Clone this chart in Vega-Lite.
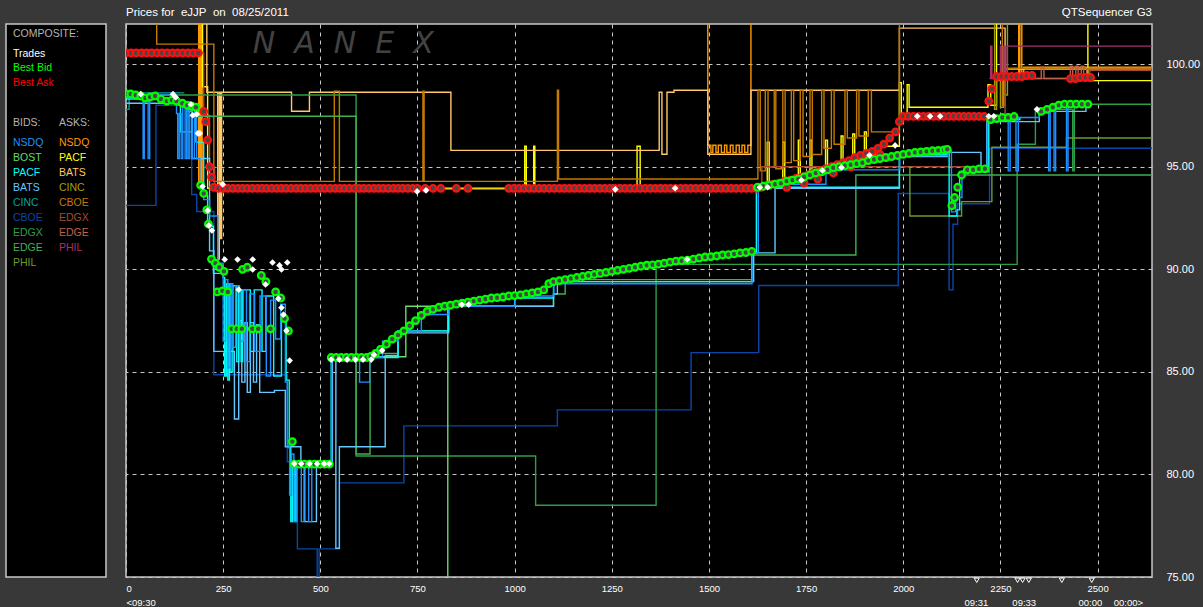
{
"$schema": "https://vega.github.io/schema/vega-lite/v6.json",
"background": "#383838",
"padding": {"left": 5, "top": 6, "right": 5, "bottom": 2},
"bounds": "flush",
"spacing": 20,
"config": {"view": {"fill": "#000000", "stroke": "#c8c8c8", "strokeWidth": 1.5}, "text": {"font": "Liberation Sans"}, "axis": {"labelFont": "Liberation Sans"}},
"datasets": {
"legend": [
{"label":"COMPOSITE:","key":"hdr","col":0,"ln":0},
{"label":"Trades","key":"Trades","col":0,"ln":1.31},
{"label":"Best Bid","key":"Best Bid","col":0,"ln":2.29},
{"label":"Best Ask","key":"Best Ask","col":0,"ln":3.29},
{"label":"BIDS:","key":"hdr","col":0,"ln":5.95},
{"label":"ASKS:","key":"hdr","col":1,"ln":5.95},
{"label":"NSDQ","key":"Bid NSDQ","col":0,"ln":7.29},
{"label":"BOST","key":"Bid BOST","col":0,"ln":8.29},
{"label":"PACF","key":"Bid PACF","col":0,"ln":9.29},
{"label":"BATS","key":"Bid BATS","col":0,"ln":10.29},
{"label":"CINC","key":"Bid CINC","col":0,"ln":11.29},
{"label":"CBOE","key":"Bid CBOE","col":0,"ln":12.29},
{"label":"EDGX","key":"Bid EDGX","col":0,"ln":13.29},
{"label":"EDGE","key":"Bid EDGE","col":0,"ln":14.29},
{"label":"PHIL","key":"Bid PHIL","col":0,"ln":15.29},
{"label":"NSDQ","key":"Ask NSDQ","col":1,"ln":7.29},
{"label":"PACF","key":"Ask PACF","col":1,"ln":8.29},
{"label":"BATS","key":"Ask BATS","col":1,"ln":9.29},
{"label":"CINC","key":"Ask CINC","col":1,"ln":10.29},
{"label":"CBOE","key":"Ask CBOE","col":1,"ln":11.29},
{"label":"EDGX","key":"Ask EDGX","col":1,"ln":12.29},
{"label":"EDGE","key":"Ask EDGE","col":1,"ln":13.29},
{"label":"PHIL","key":"Ask PHIL","col":1,"ln":14.29}
],
"wm": [{"label":"N\u00a0\u00a0A\u00a0\u00a0N\u00a0\u00a0E\u00a0\u00a0X","t":559}],
"hdr1": [{"label":"Prices for\u00a0 eJJP\u00a0 on\u00a0 08/25/2011","t":0}],
"hdr2": [{"label":"QTSequencer G3","t":2640}],
"marks": [{"t":2189},{"t":2294},{"t":2307},{"t":2323},{"t":2408},{"t":2485}],
"lines": [
{"k":"Ask NSDQ","t":0,"p":103},{"k":"Ask NSDQ","t":187,"p":94.0},{"k":"Ask NSDQ","t":190,"p":103},{"k":"Ask NSDQ","t":193,"p":94.0},{"k":"Ask NSDQ","t":196,"p":103},{"k":"Ask NSDQ","t":1497,"p":96.05},{"k":"Ask NSDQ","t":1505,"p":95.7},{"k":"Ask NSDQ","t":1510,"p":96.05},{"k":"Ask NSDQ","t":1518,"p":95.7},{"k":"Ask NSDQ","t":1524,"p":96.05},{"k":"Ask NSDQ","t":1532,"p":95.7},{"k":"Ask NSDQ","t":1540,"p":96.05},{"k":"Ask NSDQ","t":1546,"p":95.7},{"k":"Ask NSDQ","t":1555,"p":96.05},{"k":"Ask NSDQ","t":1562,"p":95.7},{"k":"Ask NSDQ","t":1570,"p":96.05},{"k":"Ask NSDQ","t":1578,"p":95.7},{"k":"Ask NSDQ","t":1585,"p":96.05},{"k":"Ask NSDQ","t":1592,"p":95.7},{"k":"Ask NSDQ","t":1600,"p":96.05},{"k":"Ask NSDQ","t":1608,"p":103},{"k":"Ask NSDQ","t":2297,"p":99.4},{"k":"Ask NSDQ","t":2300,"p":103},{"k":"Ask NSDQ","t":2305,"p":99.4},{"k":"Ask NSDQ","t":2310,"p":99.85},{"k":"Ask NSDQ","t":2640,"p":99.85},
{"k":"Ask PACF","t":0,"p":103},{"k":"Ask PACF","t":197,"p":98.9},{"k":"Ask PACF","t":210,"p":93.95},{"k":"Ask PACF","t":1026,"p":96.0},{"k":"Ask PACF","t":1030,"p":93.95},{"k":"Ask PACF","t":1049,"p":96.0},{"k":"Ask PACF","t":1052,"p":93.95},{"k":"Ask PACF","t":1315,"p":96.0},{"k":"Ask PACF","t":1323,"p":93.95},{"k":"Ask PACF","t":1650,"p":96.2},{"k":"Ask PACF","t":1655,"p":94.1},{"k":"Ask PACF","t":1690,"p":96.2},{"k":"Ask PACF","t":1695,"p":94.3},{"k":"Ask PACF","t":1730,"p":96.3},{"k":"Ask PACF","t":1735,"p":94.5},{"k":"Ask PACF","t":1760,"p":96.3},{"k":"Ask PACF","t":1765,"p":94.7},{"k":"Ask PACF","t":1800,"p":96.3},{"k":"Ask PACF","t":1805,"p":95.0},{"k":"Ask PACF","t":1840,"p":96.5},{"k":"Ask PACF","t":1845,"p":95.3},{"k":"Ask PACF","t":1870,"p":96.6},{"k":"Ask PACF","t":1875,"p":95.5},{"k":"Ask PACF","t":1900,"p":96.7},{"k":"Ask PACF","t":1905,"p":95.6},{"k":"Ask PACF","t":1933,"p":96.0},{"k":"Ask PACF","t":1990,"p":99.1},{"k":"Ask PACF","t":1995,"p":97.36},{"k":"Ask PACF","t":2010,"p":99.0},{"k":"Ask PACF","t":2015,"p":97.9},{"k":"Ask PACF","t":2215,"p":97.9},{"k":"Ask PACF","t":2218,"p":99.0},{"k":"Ask PACF","t":2225,"p":98.0},{"k":"Ask PACF","t":2240,"p":103},{"k":"Ask PACF","t":2475,"p":99.2},{"k":"Ask PACF","t":2640,"p":99.2},
{"k":"Ask BATS","t":0,"p":103},{"k":"Ask BATS","t":208,"p":98.63},{"k":"Ask BATS","t":236,"p":90.5},{"k":"Ask BATS","t":240,"p":98.63},{"k":"Ask BATS","t":243,"p":91.5},{"k":"Ask BATS","t":246,"p":98.63},{"k":"Ask BATS","t":426,"p":97.71},{"k":"Ask BATS","t":472,"p":98.63},{"k":"Ask BATS","t":836,"p":95.8},{"k":"Ask BATS","t":1372,"p":98.63},{"k":"Ask BATS","t":1379,"p":95.61},{"k":"Ask BATS","t":1392,"p":98.63},{"k":"Ask BATS","t":1410,"p":98.73},{"k":"Ask BATS","t":1497,"p":95.61},{"k":"Ask BATS","t":1608,"p":98.73},{"k":"Ask BATS","t":1990,"p":101.76},{"k":"Ask BATS","t":2262,"p":99.76},{"k":"Ask BATS","t":2640,"p":99.76},
{"k":"Ask CINC","t":0,"p":103},{"k":"Ask CINC","t":2235,"p":97.8},{"k":"Ask CINC","t":2240,"p":99.2},{"k":"Ask CINC","t":2250,"p":97.9},{"k":"Ask CINC","t":2258,"p":100.4},{"k":"Ask CINC","t":2262,"p":98.5},{"k":"Ask CINC","t":2268,"p":103},
{"k":"Ask CBOE","t":0,"p":103},{"k":"Ask CBOE","t":79,"p":100.98},{"k":"Ask CBOE","t":226,"p":94.29},{"k":"Ask CBOE","t":536,"p":98.68},{"k":"Ask CBOE","t":549,"p":94.29},{"k":"Ask CBOE","t":764,"p":98.68},{"k":"Ask CBOE","t":767,"p":94.29},{"k":"Ask CBOE","t":1110,"p":98.73},{"k":"Ask CBOE","t":1113,"p":94.4},{"k":"Ask CBOE","t":1626,"p":98.73},{"k":"Ask CBOE","t":1632,"p":94.8},{"k":"Ask CBOE","t":1645,"p":98.73},{"k":"Ask CBOE","t":1652,"p":95.0},{"k":"Ask CBOE","t":1668,"p":98.73},{"k":"Ask CBOE","t":1672,"p":94.9},{"k":"Ask CBOE","t":1690,"p":98.73},{"k":"Ask CBOE","t":1696,"p":95.2},{"k":"Ask CBOE","t":1712,"p":98.73},{"k":"Ask CBOE","t":1718,"p":95.3},{"k":"Ask CBOE","t":1735,"p":98.73},{"k":"Ask CBOE","t":1742,"p":95.5},{"k":"Ask CBOE","t":1760,"p":98.73},{"k":"Ask CBOE","t":1766,"p":95.6},{"k":"Ask CBOE","t":1790,"p":98.73},{"k":"Ask CBOE","t":1796,"p":95.9},{"k":"Ask CBOE","t":1815,"p":98.73},{"k":"Ask CBOE","t":1822,"p":96.1},{"k":"Ask CBOE","t":1850,"p":98.73},{"k":"Ask CBOE","t":1856,"p":96.4},{"k":"Ask CBOE","t":1880,"p":98.73},{"k":"Ask CBOE","t":1886,"p":96.5},{"k":"Ask CBOE","t":1910,"p":98.73},{"k":"Ask CBOE","t":1918,"p":96.7},{"k":"Ask CBOE","t":1990,"p":103},{"k":"Ask CBOE","t":2255,"p":98.0},{"k":"Ask CBOE","t":2262,"p":99.8},{"k":"Ask CBOE","t":2640,"p":99.8},
{"k":"Ask EDGX","t":0,"p":100.55},{"k":"Ask EDGX","t":190,"p":100.55},{"k":"Ask EDGX","t":200,"p":97.5},{"k":"Ask EDGX","t":215,"p":95.0},{"k":"Ask EDGX","t":228,"p":93.9},{"k":"Ask EDGX","t":1636,"p":95.0},{"k":"Ask EDGX","t":2215,"p":97.4},{"k":"Ask EDGX","t":2262,"p":99.3},{"k":"Ask EDGX","t":2480,"p":99.7},{"k":"Ask EDGX","t":2640,"p":99.7},
{"k":"Ask EDGE","t":2280,"p":99.3},{"k":"Ask EDGE","t":2355,"p":99.85},{"k":"Ask EDGE","t":2362,"p":99.3},{"k":"Ask EDGE","t":2430,"p":99.9},{"k":"Ask EDGE","t":2436,"p":99.3},{"k":"Ask EDGE","t":2444,"p":99.9},{"k":"Ask EDGE","t":2450,"p":99.3},{"k":"Ask EDGE","t":2458,"p":99.9},{"k":"Ask EDGE","t":2464,"p":99.3},{"k":"Ask EDGE","t":2472,"p":99.75},{"k":"Ask EDGE","t":2640,"p":99.75},
{"k":"Ask PHIL","t":2222,"p":99.3},{"k":"Ask PHIL","t":2225,"p":100.88},{"k":"Ask PHIL","t":2228,"p":99.3},{"k":"Ask PHIL","t":2250,"p":100.88},{"k":"Ask PHIL","t":2253,"p":99.3},{"k":"Ask PHIL","t":2258,"p":100.88},{"k":"Ask PHIL","t":2262,"p":99.5},{"k":"Ask PHIL","t":2267,"p":100.88},{"k":"Ask PHIL","t":2640,"p":100.88},
{"k":"Bid CBOE","t":0,"p":93.12},{"k":"Bid CBOE","t":77,"p":98.0},{"k":"Bid CBOE","t":169,"p":93.65},{"k":"Bid CBOE","t":182,"p":92.82},{"k":"Bid CBOE","t":226,"p":84.86},{"k":"Bid CBOE","t":415,"p":80.62},{"k":"Bid CBOE","t":441,"p":76.37},{"k":"Bid CBOE","t":492,"p":74.0},{"k":"Bid CBOE","t":497,"p":76.37},{"k":"Bid CBOE","t":549,"p":79.59},{"k":"Bid CBOE","t":715,"p":82.37},{"k":"Bid CBOE","t":1110,"p":83.15},{"k":"Bid CBOE","t":1454,"p":85.94},{"k":"Bid CBOE","t":1628,"p":89.21},{"k":"Bid CBOE","t":1987,"p":93.7},{"k":"Bid CBOE","t":2118,"p":89.0},{"k":"Bid CBOE","t":2128,"p":92.2},{"k":"Bid CBOE","t":2140,"p":93.2},{"k":"Bid CBOE","t":2222,"p":95.9},{"k":"Bid CBOE","t":2640,"p":95.9},
{"k":"Bid EDGX","t":0,"p":98.5},{"k":"Bid EDGX","t":592,"p":80.9},{"k":"Bid EDGX","t":1054,"p":78.5},{"k":"Bid EDGX","t":1364,"p":90.24},{"k":"Bid EDGX","t":2293,"p":96.1},{"k":"Bid EDGX","t":2340,"p":97.8},{"k":"Bid EDGX","t":2436,"p":94.8},{"k":"Bid EDGX","t":2440,"p":98.05},{"k":"Bid EDGX","t":2640,"p":98.05},
{"k":"Bid EDGE","t":159,"p":97.46},{"k":"Bid EDGE","t":592,"p":81.0},{"k":"Bid EDGE","t":628,"p":85.9},{"k":"Bid EDGE","t":700,"p":87.0},{"k":"Bid EDGE","t":830,"p":88.2},{"k":"Bid EDGE","t":1100,"p":88.8},{"k":"Bid EDGE","t":1130,"p":89.5},{"k":"Bid EDGE","t":1610,"p":90.7},{"k":"Bid EDGE","t":1878,"p":94.6},{"k":"Bid EDGE","t":2640,"p":94.6},
{"k":"Bid PHIL","t":2015,"p":95.0},{"k":"Bid PHIL","t":2017,"p":92.6},{"k":"Bid PHIL","t":2140,"p":92.6},{"k":"Bid PHIL","t":2150,"p":93.3},{"k":"Bid PHIL","t":2228,"p":95.95},{"k":"Bid PHIL","t":2420,"p":96.4},{"k":"Bid PHIL","t":2640,"p":96.4},
{"k":"Bid BOST","t":587,"p":85.74},{"k":"Bid BOST","t":720,"p":88.2},{"k":"Bid BOST","t":828,"p":74.0},
{"k":"Bid CINC","t":0,"p":97.8},{"k":"Bid CINC","t":8,"p":98.6},{"k":"Bid CINC","t":150,"p":98.6},
{"k":"Bid BATS","t":0,"p":98.1},{"k":"Bid BATS","t":160,"p":97.7},{"k":"Bid BATS","t":170,"p":95.4},{"k":"Bid BATS","t":200,"p":95.4},{"k":"Bid BATS","t":215,"p":90.9},{"k":"Bid BATS","t":226,"p":86.0},{"k":"Bid BATS","t":279,"p":82.7},{"k":"Bid BATS","t":290,"p":87.5},{"k":"Bid BATS","t":298,"p":84.5},{"k":"Bid BATS","t":306,"p":87.4},{"k":"Bid BATS","t":312,"p":84.0},{"k":"Bid BATS","t":320,"p":87.4},{"k":"Bid BATS","t":328,"p":84.5},{"k":"Bid BATS","t":336,"p":87.3},{"k":"Bid BATS","t":344,"p":84.0},{"k":"Bid BATS","t":382,"p":84.1},{"k":"Bid BATS","t":410,"p":81.35},{"k":"Bid BATS","t":450,"p":80.5},{"k":"Bid BATS","t":460,"p":77.7},{"k":"Bid BATS","t":480,"p":77.7},{"k":"Bid BATS","t":490,"p":80.5},{"k":"Bid BATS","t":531,"p":85.7},{"k":"Bid BATS","t":540,"p":76.4},{"k":"Bid BATS","t":549,"p":81.35},{"k":"Bid BATS","t":667,"p":85.8},{"k":"Bid BATS","t":700,"p":86.9},{"k":"Bid BATS","t":830,"p":88.2},{"k":"Bid BATS","t":1100,"p":88.8},{"k":"Bid BATS","t":1110,"p":89.4},{"k":"Bid BATS","t":1615,"p":90.8},{"k":"Bid BATS","t":1670,"p":93.95},{"k":"Bid BATS","t":1990,"p":95.5},{"k":"Bid BATS","t":2113,"p":95.7},{"k":"Bid BATS","t":2200,"p":94.9},{"k":"Bid BATS","t":2215,"p":97.2},{"k":"Bid BATS","t":2350,"p":97.7},{"k":"Bid BATS","t":2470,"p":98.0},
{"k":"Bid PACF","t":0,"p":98.3},{"k":"Bid PACF","t":136,"p":98.0},{"k":"Bid PACF","t":140,"p":96.7},{"k":"Bid PACF","t":159,"p":96.7},{"k":"Bid PACF","t":170,"p":98.0},{"k":"Bid PACF","t":180,"p":96.2},{"k":"Bid PACF","t":200,"p":93.6},{"k":"Bid PACF","t":210,"p":92.1},{"k":"Bid PACF","t":225,"p":89.8},{"k":"Bid PACF","t":250,"p":89.6},{"k":"Bid PACF","t":254,"p":84.8},{"k":"Bid PACF","t":258,"p":89.3},{"k":"Bid PACF","t":262,"p":84.6},{"k":"Bid PACF","t":266,"p":89.3},{"k":"Bid PACF","t":270,"p":85.0},{"k":"Bid PACF","t":275,"p":89.2},{"k":"Bid PACF","t":285,"p":85.5},{"k":"Bid PACF","t":290,"p":89.0},{"k":"Bid PACF","t":296,"p":85.5},{"k":"Bid PACF","t":300,"p":89.0},{"k":"Bid PACF","t":320,"p":86.0},{"k":"Bid PACF","t":330,"p":89.0},{"k":"Bid PACF","t":350,"p":86.0},{"k":"Bid PACF","t":360,"p":88.7},{"k":"Bid PACF","t":380,"p":84.8},{"k":"Bid PACF","t":400,"p":87.6},{"k":"Bid PACF","t":412,"p":84.6},{"k":"Bid PACF","t":420,"p":81.3},{"k":"Bid PACF","t":424,"p":77.7},{"k":"Bid PACF","t":428,"p":80.5},{"k":"Bid PACF","t":434,"p":77.7},{"k":"Bid PACF","t":438,"p":80.5},{"k":"Bid PACF","t":528,"p":85.7},{"k":"Bid PACF","t":626,"p":85.7},{"k":"Bid PACF","t":700,"p":87.0},{"k":"Bid PACF","t":830,"p":88.2},{"k":"Bid PACF","t":1000,"p":88.6},{"k":"Bid PACF","t":1100,"p":89.4},{"k":"Bid PACF","t":1610,"p":90.8},{"k":"Bid PACF","t":1622,"p":94.0},{"k":"Bid PACF","t":1990,"p":95.6},{"k":"Bid PACF","t":2113,"p":95.8},{"k":"Bid PACF","t":2118,"p":92.6},{"k":"Bid PACF","t":2138,"p":92.9},{"k":"Bid PACF","t":2145,"p":94.75},{"k":"Bid PACF","t":2220,"p":97.3},{"k":"Bid PACF","t":2300,"p":97.4},
{"k":"Bid NSDQ","t":0,"p":98.5},{"k":"Bid NSDQ","t":44,"p":95.4},{"k":"Bid NSDQ","t":47,"p":98.5},{"k":"Bid NSDQ","t":57,"p":95.4},{"k":"Bid NSDQ","t":61,"p":98.5},{"k":"Bid NSDQ","t":130,"p":97.6},{"k":"Bid NSDQ","t":133,"p":95.4},{"k":"Bid NSDQ","t":137,"p":97.6},{"k":"Bid NSDQ","t":142,"p":95.4},{"k":"Bid NSDQ","t":146,"p":97.9},{"k":"Bid NSDQ","t":152,"p":95.4},{"k":"Bid NSDQ","t":156,"p":97.9},{"k":"Bid NSDQ","t":160,"p":95.4},{"k":"Bid NSDQ","t":164,"p":97.9},{"k":"Bid NSDQ","t":170,"p":95.4},{"k":"Bid NSDQ","t":176,"p":97.9},{"k":"Bid NSDQ","t":182,"p":95.4},{"k":"Bid NSDQ","t":190,"p":94.0},{"k":"Bid NSDQ","t":200,"p":93.4},{"k":"Bid NSDQ","t":215,"p":92.6},{"k":"Bid NSDQ","t":236,"p":90.3},{"k":"Bid NSDQ","t":250,"p":86.5},{"k":"Bid NSDQ","t":256,"p":89.5},{"k":"Bid NSDQ","t":262,"p":85.2},{"k":"Bid NSDQ","t":268,"p":89.3},{"k":"Bid NSDQ","t":275,"p":86.2},{"k":"Bid NSDQ","t":282,"p":89.2},{"k":"Bid NSDQ","t":292,"p":86.5},{"k":"Bid NSDQ","t":302,"p":89.0},{"k":"Bid NSDQ","t":310,"p":85.5},{"k":"Bid NSDQ","t":318,"p":88.8},{"k":"Bid NSDQ","t":331,"p":86.0},{"k":"Bid NSDQ","t":345,"p":88.7},{"k":"Bid NSDQ","t":361,"p":84.8},{"k":"Bid NSDQ","t":372,"p":88.5},{"k":"Bid NSDQ","t":385,"p":86.6},{"k":"Bid NSDQ","t":398,"p":88.3},{"k":"Bid NSDQ","t":410,"p":84.5},{"k":"Bid NSDQ","t":415,"p":81.4},{"k":"Bid NSDQ","t":421,"p":79.0},{"k":"Bid NSDQ","t":426,"p":81.0},{"k":"Bid NSDQ","t":432,"p":77.7},{"k":"Bid NSDQ","t":440,"p":80.5},{"k":"Bid NSDQ","t":451,"p":77.7},{"k":"Bid NSDQ","t":458,"p":80.5},{"k":"Bid NSDQ","t":470,"p":77.7},{"k":"Bid NSDQ","t":478,"p":80.5},{"k":"Bid NSDQ","t":529,"p":85.7},{"k":"Bid NSDQ","t":587,"p":85.7},{"k":"Bid NSDQ","t":601,"p":84.5},{"k":"Bid NSDQ","t":627,"p":85.7},{"k":"Bid NSDQ","t":660,"p":86.5},{"k":"Bid NSDQ","t":701,"p":87.0},{"k":"Bid NSDQ","t":760,"p":87.8},{"k":"Bid NSDQ","t":831,"p":88.2},{"k":"Bid NSDQ","t":1001,"p":88.7},{"k":"Bid NSDQ","t":1101,"p":89.3},{"k":"Bid NSDQ","t":1611,"p":90.8},{"k":"Bid NSDQ","t":1627,"p":93.95},{"k":"Bid NSDQ","t":1660,"p":94.15},{"k":"Bid NSDQ","t":1801,"p":94.85},{"k":"Bid NSDQ","t":1991,"p":95.55},{"k":"Bid NSDQ","t":2114,"p":95.8},{"k":"Bid NSDQ","t":2124,"p":92.8},{"k":"Bid NSDQ","t":2135,"p":93.5},{"k":"Bid NSDQ","t":2151,"p":94.8},{"k":"Bid NSDQ","t":2216,"p":97.3},{"k":"Bid NSDQ","t":2270,"p":94.8},{"k":"Bid NSDQ","t":2275,"p":97.3},{"k":"Bid NSDQ","t":2290,"p":94.8},{"k":"Bid NSDQ","t":2296,"p":97.4},{"k":"Bid NSDQ","t":2350,"p":97.8},{"k":"Bid NSDQ","t":2374,"p":94.8},{"k":"Bid NSDQ","t":2378,"p":97.9},{"k":"Bid NSDQ","t":2388,"p":94.8},{"k":"Bid NSDQ","t":2392,"p":98.0},{"k":"Bid NSDQ","t":2420,"p":94.8},{"k":"Bid NSDQ","t":2424,"p":98.05},{"k":"Bid NSDQ","t":2470,"p":98.05}
],
"bidask": [
{"k":"Best Ask","t":0,"p":100.55},{"k":"Best Ask","t":13,"p":100.55},{"k":"Best Ask","t":26,"p":100.55},{"k":"Best Ask","t":40,"p":100.55},{"k":"Best Ask","t":53,"p":100.55},{"k":"Best Ask","t":66,"p":100.55},{"k":"Best Ask","t":80,"p":100.55},{"k":"Best Ask","t":93,"p":100.55},{"k":"Best Ask","t":106,"p":100.55},{"k":"Best Ask","t":120,"p":100.55},{"k":"Best Ask","t":133,"p":100.55},{"k":"Best Ask","t":146,"p":100.55},{"k":"Best Ask","t":160,"p":100.55},{"k":"Best Ask","t":173,"p":100.55},{"k":"Best Ask","t":186,"p":100.55},
{"k":"Best Ask","t":200,"p":97.7},{"k":"Best Ask","t":205,"p":97.2},{"k":"Best Ask","t":210,"p":96.3},{"k":"Best Ask","t":215,"p":95.0},{"k":"Best Ask","t":220,"p":94.5},{"k":"Best Ask","t":226,"p":94.0},
{"k":"Best Ask","t":238,"p":93.95},{"k":"Best Ask","t":250,"p":93.95},{"k":"Best Ask","t":262,"p":93.95},{"k":"Best Ask","t":275,"p":93.95},{"k":"Best Ask","t":288,"p":93.95},{"k":"Best Ask","t":300,"p":93.95},{"k":"Best Ask","t":312,"p":93.95},{"k":"Best Ask","t":325,"p":93.95},{"k":"Best Ask","t":338,"p":93.95},{"k":"Best Ask","t":350,"p":93.95},{"k":"Best Ask","t":362,"p":93.95},{"k":"Best Ask","t":375,"p":93.95},{"k":"Best Ask","t":388,"p":93.95},{"k":"Best Ask","t":400,"p":93.95},{"k":"Best Ask","t":412,"p":93.95},{"k":"Best Ask","t":425,"p":93.95},{"k":"Best Ask","t":438,"p":93.95},{"k":"Best Ask","t":450,"p":93.95},{"k":"Best Ask","t":462,"p":93.95},{"k":"Best Ask","t":475,"p":93.95},{"k":"Best Ask","t":488,"p":93.95},{"k":"Best Ask","t":500,"p":93.95},{"k":"Best Ask","t":512,"p":93.95},{"k":"Best Ask","t":525,"p":93.95},{"k":"Best Ask","t":538,"p":93.95},{"k":"Best Ask","t":550,"p":93.95},{"k":"Best Ask","t":562,"p":93.95},{"k":"Best Ask","t":575,"p":93.95},{"k":"Best Ask","t":588,"p":93.95},{"k":"Best Ask","t":600,"p":93.95},{"k":"Best Ask","t":612,"p":93.95},{"k":"Best Ask","t":625,"p":93.95},{"k":"Best Ask","t":638,"p":93.95},{"k":"Best Ask","t":650,"p":93.95},{"k":"Best Ask","t":662,"p":93.95},{"k":"Best Ask","t":675,"p":93.95},{"k":"Best Ask","t":688,"p":93.95},{"k":"Best Ask","t":700,"p":93.95},{"k":"Best Ask","t":712,"p":93.95},{"k":"Best Ask","t":725,"p":93.95},{"k":"Best Ask","t":738,"p":93.95},{"k":"Best Ask","t":750,"p":93.95},{"k":"Best Ask","t":770,"p":93.95},{"k":"Best Ask","t":790,"p":93.95},{"k":"Best Ask","t":810,"p":93.95},{"k":"Best Ask","t":850,"p":93.95},{"k":"Best Ask","t":880,"p":93.95},
{"k":"Best Ask","t":985,"p":93.95},{"k":"Best Ask","t":998,"p":93.95},{"k":"Best Ask","t":1011,"p":93.95},{"k":"Best Ask","t":1024,"p":93.95},{"k":"Best Ask","t":1037,"p":93.95},{"k":"Best Ask","t":1050,"p":93.95},{"k":"Best Ask","t":1063,"p":93.95},{"k":"Best Ask","t":1076,"p":93.95},{"k":"Best Ask","t":1089,"p":93.95},{"k":"Best Ask","t":1102,"p":93.95},{"k":"Best Ask","t":1115,"p":93.95},{"k":"Best Ask","t":1128,"p":93.95},{"k":"Best Ask","t":1141,"p":93.95},{"k":"Best Ask","t":1154,"p":93.95},{"k":"Best Ask","t":1167,"p":93.95},{"k":"Best Ask","t":1180,"p":93.95},{"k":"Best Ask","t":1193,"p":93.95},{"k":"Best Ask","t":1206,"p":93.95},{"k":"Best Ask","t":1219,"p":93.95},{"k":"Best Ask","t":1232,"p":93.95},{"k":"Best Ask","t":1245,"p":93.95},{"k":"Best Ask","t":1258,"p":93.95},{"k":"Best Ask","t":1271,"p":93.95},{"k":"Best Ask","t":1284,"p":93.95},{"k":"Best Ask","t":1297,"p":93.95},{"k":"Best Ask","t":1310,"p":93.95},{"k":"Best Ask","t":1323,"p":93.95},{"k":"Best Ask","t":1336,"p":93.95},{"k":"Best Ask","t":1349,"p":93.95},{"k":"Best Ask","t":1362,"p":93.95},{"k":"Best Ask","t":1375,"p":93.95},{"k":"Best Ask","t":1388,"p":93.95},{"k":"Best Ask","t":1401,"p":93.95},{"k":"Best Ask","t":1414,"p":93.95},{"k":"Best Ask","t":1427,"p":93.95},{"k":"Best Ask","t":1440,"p":93.95},{"k":"Best Ask","t":1453,"p":93.95},{"k":"Best Ask","t":1466,"p":93.95},{"k":"Best Ask","t":1479,"p":93.95},{"k":"Best Ask","t":1492,"p":93.95},{"k":"Best Ask","t":1505,"p":93.95},{"k":"Best Ask","t":1518,"p":93.95},{"k":"Best Ask","t":1531,"p":93.95},{"k":"Best Ask","t":1544,"p":93.95},{"k":"Best Ask","t":1557,"p":93.95},{"k":"Best Ask","t":1570,"p":93.95},{"k":"Best Ask","t":1583,"p":93.95},{"k":"Best Ask","t":1596,"p":93.95},{"k":"Best Ask","t":1609,"p":93.95},{"k":"Best Ask","t":1622,"p":93.95},
{"k":"Best Ask","t":1635,"p":94.0},{"k":"Best Ask","t":1650,"p":94.1},{"k":"Best Ask","t":1665,"p":94.15},{"k":"Best Ask","t":1680,"p":94.2},{"k":"Best Ask","t":1695,"p":94.3},{"k":"Best Ask","t":1700,"p":94.0},{"k":"Best Ask","t":1710,"p":94.35},{"k":"Best Ask","t":1725,"p":94.45},{"k":"Best Ask","t":1740,"p":94.5},{"k":"Best Ask","t":1745,"p":94.2},{"k":"Best Ask","t":1755,"p":94.6},{"k":"Best Ask","t":1770,"p":94.7},{"k":"Best Ask","t":1780,"p":94.4},{"k":"Best Ask","t":1785,"p":94.8},{"k":"Best Ask","t":1800,"p":94.9},{"k":"Best Ask","t":1815,"p":95.0},{"k":"Best Ask","t":1820,"p":94.7},{"k":"Best Ask","t":1830,"p":95.1},{"k":"Best Ask","t":1845,"p":95.2},{"k":"Best Ask","t":1860,"p":95.3},{"k":"Best Ask","t":1865,"p":95.0},{"k":"Best Ask","t":1875,"p":95.45},{"k":"Best Ask","t":1890,"p":95.55},{"k":"Best Ask","t":1900,"p":95.3},{"k":"Best Ask","t":1905,"p":95.65},{"k":"Best Ask","t":1920,"p":95.75},{"k":"Best Ask","t":1935,"p":95.9},{"k":"Best Ask","t":1940,"p":95.6},{"k":"Best Ask","t":1950,"p":96.1},{"k":"Best Ask","t":1965,"p":96.4},{"k":"Best Ask","t":1980,"p":96.7},{"k":"Best Ask","t":1990,"p":97.2},
{"k":"Best Ask","t":2000,"p":97.46},{"k":"Best Ask","t":2013,"p":97.46},{"k":"Best Ask","t":2026,"p":97.46},{"k":"Best Ask","t":2039,"p":97.46},{"k":"Best Ask","t":2052,"p":97.46},{"k":"Best Ask","t":2065,"p":97.46},{"k":"Best Ask","t":2078,"p":97.46},{"k":"Best Ask","t":2091,"p":97.46},{"k":"Best Ask","t":2104,"p":97.46},{"k":"Best Ask","t":2117,"p":97.46},{"k":"Best Ask","t":2130,"p":97.46},{"k":"Best Ask","t":2143,"p":97.46},{"k":"Best Ask","t":2156,"p":97.46},{"k":"Best Ask","t":2169,"p":97.46},{"k":"Best Ask","t":2182,"p":97.46},{"k":"Best Ask","t":2195,"p":97.46},{"k":"Best Ask","t":2208,"p":97.46},
{"k":"Best Ask","t":2220,"p":98.2},{"k":"Best Ask","t":2228,"p":98.8},{"k":"Best Ask","t":2240,"p":99.4},{"k":"Best Ask","t":2253,"p":99.4},{"k":"Best Ask","t":2266,"p":99.4},{"k":"Best Ask","t":2279,"p":99.4},{"k":"Best Ask","t":2292,"p":99.4},{"k":"Best Ask","t":2305,"p":99.4},{"k":"Best Ask","t":2318,"p":99.45},{"k":"Best Ask","t":2331,"p":99.45},{"k":"Best Ask","t":2430,"p":99.3},{"k":"Best Ask","t":2443,"p":99.3},{"k":"Best Ask","t":2456,"p":99.35},{"k":"Best Ask","t":2469,"p":99.35},{"k":"Best Ask","t":2482,"p":99.35},
{"k":"Best Bid","t":0,"p":98.55},{"k":"Best Bid","t":12,"p":98.55},{"k":"Best Bid","t":25,"p":98.5},{"k":"Best Bid","t":38,"p":98.45},{"k":"Best Bid","t":50,"p":98.35},{"k":"Best Bid","t":62,"p":98.4},{"k":"Best Bid","t":75,"p":98.45},{"k":"Best Bid","t":90,"p":98.3},{"k":"Best Bid","t":105,"p":98.2},{"k":"Best Bid","t":118,"p":98.25},{"k":"Best Bid","t":130,"p":98.2},{"k":"Best Bid","t":145,"p":98.1},{"k":"Best Bid","t":158,"p":98.0},{"k":"Best Bid","t":170,"p":97.95},{"k":"Best Bid","t":180,"p":97.9},{"k":"Best Bid","t":192,"p":94.1},{"k":"Best Bid","t":200,"p":93.7},{"k":"Best Bid","t":208,"p":92.9},{"k":"Best Bid","t":212,"p":92.2},{"k":"Best Bid","t":220,"p":90.5},{"k":"Best Bid","t":230,"p":90.3},{"k":"Best Bid","t":240,"p":90.1},{"k":"Best Bid","t":252,"p":89.9},{"k":"Best Bid","t":235,"p":88.9},{"k":"Best Bid","t":248,"p":88.95},{"k":"Best Bid","t":262,"p":88.9},{"k":"Best Bid","t":272,"p":87.1},{"k":"Best Bid","t":285,"p":87.1},{"k":"Best Bid","t":298,"p":87.1},{"k":"Best Bid","t":300,"p":90.0},{"k":"Best Bid","t":312,"p":90.1},{"k":"Best Bid","t":325,"p":87.1},{"k":"Best Bid","t":340,"p":87.1},{"k":"Best Bid","t":348,"p":89.7},{"k":"Best Bid","t":360,"p":89.4},{"k":"Best Bid","t":372,"p":87.1},{"k":"Best Bid","t":385,"p":88.9},{"k":"Best Bid","t":398,"p":88.6},{"k":"Best Bid","t":408,"p":87.6},{"k":"Best Bid","t":418,"p":87.0},{"k":"Best Bid","t":428,"p":81.6},{"k":"Best Bid","t":433,"p":80.5},{"k":"Best Bid","t":446,"p":80.5},{"k":"Best Bid","t":459,"p":80.5},{"k":"Best Bid","t":472,"p":80.5},{"k":"Best Bid","t":485,"p":80.5},{"k":"Best Bid","t":498,"p":80.5},{"k":"Best Bid","t":511,"p":80.5},{"k":"Best Bid","t":523,"p":80.5},
{"k":"Best Bid","t":528,"p":85.7},{"k":"Best Bid","t":541,"p":85.7},{"k":"Best Bid","t":554,"p":85.7},{"k":"Best Bid","t":567,"p":85.7},{"k":"Best Bid","t":580,"p":85.7},{"k":"Best Bid","t":593,"p":85.7},{"k":"Best Bid","t":606,"p":85.7},{"k":"Best Bid","t":619,"p":85.7},{"k":"Best Bid","t":630,"p":85.75},{"k":"Best Bid","t":642,"p":85.9},{"k":"Best Bid","t":655,"p":86.1},{"k":"Best Bid","t":670,"p":86.35},{"k":"Best Bid","t":685,"p":86.6},{"k":"Best Bid","t":700,"p":86.8},{"k":"Best Bid","t":715,"p":87.0},{"k":"Best Bid","t":730,"p":87.25},{"k":"Best Bid","t":745,"p":87.5},{"k":"Best Bid","t":760,"p":87.75},{"k":"Best Bid","t":775,"p":87.95},{"k":"Best Bid","t":790,"p":88.05},{"k":"Best Bid","t":805,"p":88.15},{"k":"Best Bid","t":820,"p":88.2},{"k":"Best Bid","t":835,"p":88.25},{"k":"Best Bid","t":850,"p":88.3},{"k":"Best Bid","t":865,"p":88.35},{"k":"Best Bid","t":880,"p":88.4},{"k":"Best Bid","t":895,"p":88.45},{"k":"Best Bid","t":910,"p":88.5},{"k":"Best Bid","t":925,"p":88.55},{"k":"Best Bid","t":940,"p":88.6},{"k":"Best Bid","t":955,"p":88.62},{"k":"Best Bid","t":970,"p":88.65},{"k":"Best Bid","t":985,"p":88.7},{"k":"Best Bid","t":1000,"p":88.72},{"k":"Best Bid","t":1015,"p":88.75},{"k":"Best Bid","t":1030,"p":88.8},{"k":"Best Bid","t":1045,"p":88.85},{"k":"Best Bid","t":1060,"p":88.9},{"k":"Best Bid","t":1075,"p":89.0},{"k":"Best Bid","t":1088,"p":89.3},{"k":"Best Bid","t":1100,"p":89.4},{"k":"Best Bid","t":1115,"p":89.45},{"k":"Best Bid","t":1130,"p":89.5},{"k":"Best Bid","t":1145,"p":89.55},{"k":"Best Bid","t":1160,"p":89.6},{"k":"Best Bid","t":1175,"p":89.65},{"k":"Best Bid","t":1190,"p":89.7},{"k":"Best Bid","t":1205,"p":89.75},{"k":"Best Bid","t":1220,"p":89.8},{"k":"Best Bid","t":1235,"p":89.85},{"k":"Best Bid","t":1250,"p":89.9},{"k":"Best Bid","t":1265,"p":89.95},{"k":"Best Bid","t":1280,"p":90.0},{"k":"Best Bid","t":1295,"p":90.05},{"k":"Best Bid","t":1310,"p":90.1},{"k":"Best Bid","t":1325,"p":90.15},{"k":"Best Bid","t":1340,"p":90.2},{"k":"Best Bid","t":1355,"p":90.22},{"k":"Best Bid","t":1370,"p":90.25},{"k":"Best Bid","t":1385,"p":90.3},{"k":"Best Bid","t":1400,"p":90.35},{"k":"Best Bid","t":1415,"p":90.4},{"k":"Best Bid","t":1430,"p":90.42},{"k":"Best Bid","t":1445,"p":90.45},{"k":"Best Bid","t":1460,"p":90.5},{"k":"Best Bid","t":1475,"p":90.55},{"k":"Best Bid","t":1490,"p":90.6},{"k":"Best Bid","t":1505,"p":90.62},{"k":"Best Bid","t":1520,"p":90.65},{"k":"Best Bid","t":1535,"p":90.7},{"k":"Best Bid","t":1550,"p":90.72},{"k":"Best Bid","t":1565,"p":90.75},{"k":"Best Bid","t":1580,"p":90.8},{"k":"Best Bid","t":1595,"p":90.82},{"k":"Best Bid","t":1610,"p":90.87},
{"k":"Best Bid","t":1625,"p":94.0},{"k":"Best Bid","t":1640,"p":94.05},{"k":"Best Bid","t":1655,"p":94.1},{"k":"Best Bid","t":1670,"p":94.15},{"k":"Best Bid","t":1685,"p":94.2},{"k":"Best Bid","t":1700,"p":94.3},{"k":"Best Bid","t":1715,"p":94.35},{"k":"Best Bid","t":1730,"p":94.4},{"k":"Best Bid","t":1745,"p":94.5},{"k":"Best Bid","t":1760,"p":94.6},{"k":"Best Bid","t":1775,"p":94.7},{"k":"Best Bid","t":1790,"p":94.75},{"k":"Best Bid","t":1805,"p":94.85},{"k":"Best Bid","t":1820,"p":94.95},{"k":"Best Bid","t":1835,"p":95.0},{"k":"Best Bid","t":1850,"p":95.05},{"k":"Best Bid","t":1865,"p":95.1},{"k":"Best Bid","t":1880,"p":95.15},{"k":"Best Bid","t":1895,"p":95.2},{"k":"Best Bid","t":1910,"p":95.3},{"k":"Best Bid","t":1925,"p":95.35},{"k":"Best Bid","t":1940,"p":95.4},{"k":"Best Bid","t":1955,"p":95.45},{"k":"Best Bid","t":1970,"p":95.5},{"k":"Best Bid","t":1985,"p":95.55},{"k":"Best Bid","t":2000,"p":95.6},{"k":"Best Bid","t":2015,"p":95.65},{"k":"Best Bid","t":2030,"p":95.7},{"k":"Best Bid","t":2045,"p":95.72},{"k":"Best Bid","t":2060,"p":95.75},{"k":"Best Bid","t":2075,"p":95.78},{"k":"Best Bid","t":2090,"p":95.8},{"k":"Best Bid","t":2105,"p":95.82},{"k":"Best Bid","t":2113,"p":95.85},{"k":"Best Bid","t":2125,"p":93.1},{"k":"Best Bid","t":2132,"p":93.5},{"k":"Best Bid","t":2140,"p":94.0},{"k":"Best Bid","t":2150,"p":94.6},{"k":"Best Bid","t":2165,"p":94.85},{"k":"Best Bid","t":2180,"p":94.85},{"k":"Best Bid","t":2195,"p":94.9},{"k":"Best Bid","t":2210,"p":94.9},{"k":"Best Bid","t":2225,"p":97.3},{"k":"Best Bid","t":2240,"p":97.35},{"k":"Best Bid","t":2255,"p":97.4},{"k":"Best Bid","t":2270,"p":97.4},{"k":"Best Bid","t":2285,"p":97.45},{"k":"Best Bid","t":2355,"p":97.7},{"k":"Best Bid","t":2370,"p":97.8},{"k":"Best Bid","t":2385,"p":97.9},{"k":"Best Bid","t":2400,"p":98.0},{"k":"Best Bid","t":2415,"p":98.05},{"k":"Best Bid","t":2430,"p":98.05},{"k":"Best Bid","t":2445,"p":98.05},{"k":"Best Bid","t":2460,"p":98.05},{"k":"Best Bid","t":2475,"p":98.05}
],
"trades": [
{"t":38,"p":98.54},{"t":121,"p":98.54},{"t":128,"p":98.39},{"t":167,"p":98.05},{"t":172,"p":97.51},{"t":182,"p":97.56},{"t":185,"p":96.63},{"t":190,"p":96.63},{"t":197,"p":94.04},{"t":249,"p":94.14},{"t":210,"p":92.87},{"t":213,"p":92.14},{"t":221,"p":91.89},{"t":254,"p":90.48},{"t":287,"p":90.48},{"t":326,"p":90.48},{"t":377,"p":90.33},{"t":395,"p":90.19},{"t":400,"p":89.99},{"t":415,"p":90.33},{"t":326,"p":89.99},{"t":290,"p":89.01},{"t":359,"p":89.26},{"t":392,"p":88.57},{"t":400,"p":88.13},{"t":405,"p":87.79},{"t":413,"p":87.01},{"t":421,"p":85.55},{"t":433,"p":80.52},{"t":451,"p":80.52},{"t":472,"p":80.52},{"t":492,"p":80.52},{"t":510,"p":80.52},{"t":523,"p":80.52},{"t":528,"p":85.6},{"t":549,"p":85.6},{"t":569,"p":85.6},{"t":590,"p":85.6},{"t":610,"p":85.6},{"t":631,"p":85.6},{"t":638,"p":85.84},{"t":659,"p":86.04},{"t":864,"p":88.28},{"t":882,"p":88.28},{"t":749,"p":93.8},{"t":772,"p":93.85},{"t":1259,"p":93.9},{"t":1413,"p":93.95},{"t":1444,"p":90.48},{"t":1631,"p":94.0},{"t":1651,"p":94.0},{"t":1738,"p":94.34},{"t":1792,"p":94.82},{"t":1841,"p":94.97},{"t":1913,"p":95.56},{"t":1979,"p":96.04},{"t":2036,"p":97.46},{"t":2069,"p":97.46},{"t":2095,"p":97.46},{"t":2220,"p":97.46},{"t":2233,"p":97.46},{"t":2344,"p":97.8}
]
},
"hconcat": [
{
"width": 100, "height": 553,
"data": {"name": "legend"},
"mark": {"type": "text", "align": "left", "baseline": "middle", "font": "Liberation Sans", "fontSize": 10.5},
"encoding": {
"x": {"field": "col", "type": "quantitative", "scale": {"domain": [-0.152, 2.022], "nice": false, "zero": false}, "axis": null},
"y": {"field": "ln", "type": "quantitative", "scale": {"domain": [-0.667, 36.2], "reverse": true, "nice": false, "zero": false}, "axis": null},
"text": {"field": "label"},
"color": {"field": "key", "type": "nominal", "legend": null, "scale": {
"domain": ["hdr","Trades","Best Bid","Best Ask","Bid NSDQ","Bid BOST","Bid PACF","Bid BATS","Bid CINC","Bid CBOE","Bid EDGX","Bid EDGE","Bid PHIL","Ask NSDQ","Ask PACF","Ask BATS","Ask CINC","Ask CBOE","Ask EDGX","Ask EDGE","Ask PHIL"],
"range": ["#b4b4b4","#ffffff","#00ff00","#ff0000","#1e90ff","#66dd66","#00ffff","#64c8ff","#00a0a0","#0a46a8","#2e9e46","#40b050","#6b9a2a","#ff9900","#ffff00","#ffc868","#a0a000","#c47a00","#a84830","#c0604a","#a8306c"]}}
}
},
{
"width": 1026, "height": 553,
"resolve": {"axis": {"x": "independent", "y": "independent"}},
"layer": [
{
"data": {"name": "wm"},
"mark": {"type": "text", "font": "DejaVu Sans", "fontSize": 30, "fontStyle": "italic", "color": "#424242", "align": "center", "baseline": "middle"},
"encoding": {
"x": {"field": "t", "type": "quantitative", "scale": {"domain": [0, 2640], "nice": false, "zero": false}, "axis": null},
"y": {"datum": 100.97, "type": "quantitative", "scale": {"domain": [75, 101.96], "nice": false, "zero": false}, "axis": null},
"text": {"field": "label"}
}
},
{
"data": {"name": "lines"},
"mark": {"type": "line", "interpolate": "step-after", "strokeWidth": 1.4, "clip": true},
"encoding": {
"x": {"field": "t", "type": "quantitative", "scale": {"domain": [0, 2640], "nice": false, "zero": false},
"axis": {"values": [0,250,500,750,1000,1250,1500,1750,2000,2250,2500], "format": "d", "grid": true, "gridColor": "#c8c8c8", "gridDash": [4,4], "gridWidth": 1, "ticks": false, "domain": false, "labelColor": "#ffffff", "labelFontSize": 9.5, "labelPadding": 6, "labelFlush": true, "labelOverlap": false, "title": null}},
"y": {"field": "p", "type": "quantitative", "scale": {"domain": [75, 101.96], "nice": false, "zero": false},
"axis": {"orient": "right", "values": [75,80,85,90,95,100], "format": ".2f", "grid": true, "gridColor": "#c8c8c8", "gridDash": [4,4], "gridWidth": 1, "ticks": false, "domain": false, "labelColor": "#ffffff", "labelFontSize": 11, "labelPadding": 14, "labelOverlap": false, "labelBound": false, "title": null}},
"color": {"field": "k", "type": "nominal", "legend": null, "scale": {
"domain": ["hdr","Trades","Best Bid","Best Ask","Bid NSDQ","Bid BOST","Bid PACF","Bid BATS","Bid CINC","Bid CBOE","Bid EDGX","Bid EDGE","Bid PHIL","Ask NSDQ","Ask PACF","Ask BATS","Ask CINC","Ask CBOE","Ask EDGX","Ask EDGE","Ask PHIL"],
"range": ["#b4b4b4","#ffffff","#00ff00","#ff0000","#1e90ff","#66dd66","#00ffff","#64c8ff","#00a0a0","#0a46a8","#2e9e46","#40b050","#6b9a2a","#ff9900","#ffff00","#ffc868","#a0a000","#c47a00","#a84830","#c0604a","#a8306c"]}}
}
},
{
"data": {"name": "bidask"},
"mark": {"type": "point", "shape": "circle", "filled": true, "fill": "#464646", "strokeWidth": 2.2, "size": 44, "opacity": 1, "clip": true},
"encoding": {
"x": {"field": "t", "type": "quantitative", "scale": {"domain": [0, 2640], "nice": false, "zero": false}, "axis": null},
"y": {"field": "p", "type": "quantitative", "scale": {"domain": [75, 101.96], "nice": false, "zero": false}, "axis": null},
"stroke": {"field": "k", "type": "nominal", "legend": null, "scale": {"domain": ["Best Bid", "Best Ask"], "range": ["#00ff00", "#ff1010"]}}
}
},
{
"data": {"name": "trades"},
"mark": {"type": "point", "shape": "diamond", "filled": true, "color": "#ffffff", "size": 44, "opacity": 1, "clip": true},
"encoding": {
"x": {"field": "t", "type": "quantitative", "scale": {"domain": [0, 2640], "nice": false, "zero": false}, "axis": null},
"y": {"field": "p", "type": "quantitative", "scale": {"domain": [75, 101.96], "nice": false, "zero": false}, "axis": null}
}
},
{
"data": {"name": "hdr1"},
"mark": {"type": "text", "align": "left", "baseline": "alphabetic", "fontSize": 11.5, "color": "#ffffff"},
"encoding": {
"x": {"field": "t", "type": "quantitative", "scale": {"domain": [0, 2640], "nice": false, "zero": false}, "axis": null},
"y": {"datum": 102.35, "type": "quantitative", "scale": {"domain": [75, 101.96], "nice": false, "zero": false}, "axis": null},
"text": {"field": "label"}
}
},
{
"data": {"name": "hdr2"},
"mark": {"type": "text", "align": "right", "baseline": "alphabetic", "fontSize": 11.5, "color": "#ffffff"},
"encoding": {
"x": {"field": "t", "type": "quantitative", "scale": {"domain": [0, 2640], "nice": false, "zero": false}, "axis": null},
"y": {"datum": 102.35, "type": "quantitative", "scale": {"domain": [75, 101.96], "nice": false, "zero": false}, "axis": null},
"text": {"field": "label"}
}
},
{
"data": {"name": "marks"},
"mark": {"type": "point", "shape": "triangle-down", "filled": false, "color": "#ffffff", "size": 26, "strokeWidth": 1, "opacity": 1},
"encoding": {
"x": {"field": "t", "type": "quantitative", "scale": {"domain": [0, 2640], "nice": false, "zero": false},
"axis": {"orient": "bottom", "values": [0, 2187, 2310, 2480, 2578], "labelExpr": "datum.value == 0 ? '<09:30' : datum.value == 2187 ? '09:31' : datum.value == 2310 ? '09:33' : datum.value == 2480 ? '00:00' : '00:00>'", "grid": false, "ticks": false, "domain": false, "labelColor": "#ffffff", "labelFontSize": 9.5, "labelPadding": 6, "offset": 14, "labelFlush": true, "labelOverlap": false, "title": null}},
"y": {"datum": 74.84, "type": "quantitative", "scale": {"domain": [75, 101.96], "nice": false, "zero": false}, "axis": null}
}
}
]
}
]
}
